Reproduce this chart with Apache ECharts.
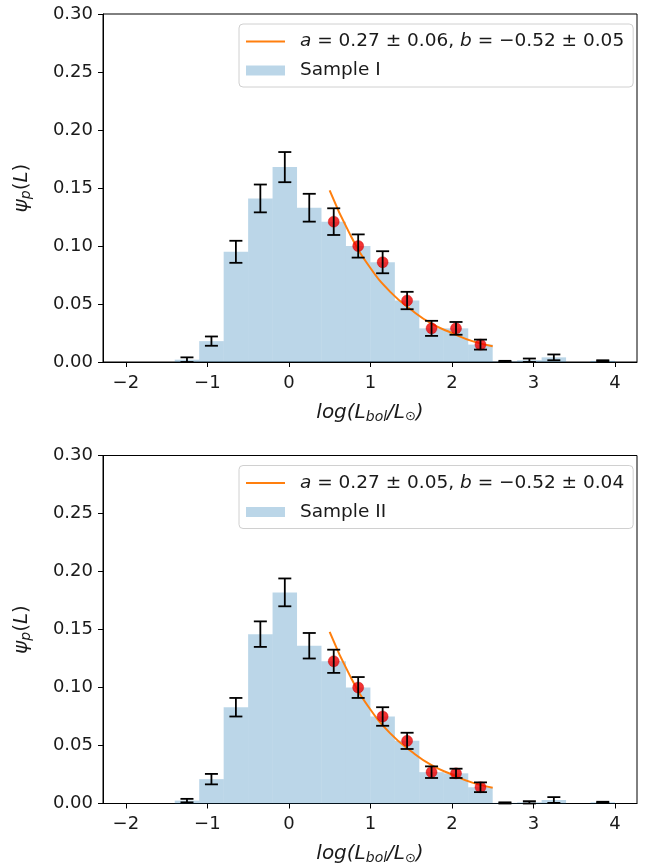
<!DOCTYPE html>
<html><head><meta charset="utf-8">
<script src="https://cdn.jsdelivr.net/npm/echarts@6/dist/echarts.min.js"></script>
<style>html,body{margin:0;padding:0;background:#fff}#c{width:649px;height:868px}</style>
</head><body><div id="c"></div>
<script>
// ---------- data ----------
const binCenters = [-1.25,-0.95,-0.65,-0.35,-0.05,0.25,0.55,0.85,1.15,1.45,1.75,2.05,2.35,2.65,2.95,3.25,3.55,3.85];
const binWidth = 0.3;
const sample1Values = [0.002,0.018,0.095,0.141,0.168,0.133,0.121,0.100,0.086,0.053,0.029,0.029,0.015,0.0005,0.0015,0.004,0,0.001];
const sample1Errors = [0.002,0.004,0.0095,0.012,0.013,0.012,0.0115,0.010,0.0095,0.0075,0.0065,0.0055,0.0043,0.0005,0.0015,0.0025,null,0.0005];
const sample2Values = [0.0025,0.021,0.083,0.146,0.182,0.136,0.1226,0.100,0.075,0.054,0.027,0.026,0.014,0.0005,0.001,0.003,0,0.001];
const sample2Errors = [0.0015,0.0045,0.008,0.011,0.012,0.011,0.010,0.009,0.008,0.007,0.005,0.004,0.0042,0.0005,0.001,0.0025,null,0.0005];
const fitIndices = [6,7,8,9,10,11,12];
const fitX = [0.5,0.75,1.0,1.25,1.5,1.75,2.0,2.25,2.5];
const fit1Y = [0.148,0.110,0.081,0.060,0.045,0.033,0.025,0.018,0.0135];
const fit2Y = [0.148,0.110,0.081,0.060,0.045,0.033,0.025,0.018,0.0135];
const fit1Name = 'a = 0.27 ± 0.06, b = −0.52 ± 0.05';
const fit2Name = 'a = 0.27 ± 0.05, b = −0.52 ± 0.04';
const sample1Name = 'Sample I';
const sample2Name = 'Sample II';
const xTicks = [-2,-1,0,1,2,3,4];
const xRange = [-2.28, 4.27];
const yRange = [0, 0.30];
const yStep = 0.05;

// ---------- styling ----------
const FONT = 'DejaVu Sans';
const TXT = '#1a1a1a';
const BAR = 'rgba(31,119,180,0.3)';
const ORANGE = '#ff7f0e';

function histSeries(gi, name, vals) {
  return {
    type: 'custom', name: name, xAxisIndex: gi, yAxisIndex: gi, z: 1,
    itemStyle: {color: BAR},
    encode: {x: 0, y: 1},
    data: binCenters.map((c, i) => [c, vals[i]]),
    renderItem: function (params, api) {
      const x = api.value(0), v = api.value(1);
      const p0 = api.coord([x - binWidth / 2, v]);
      const p1 = api.coord([x + binWidth / 2, 0]);
      return {type: 'rect', shape: {x: p0[0], y: p0[1], width: p1[0] - p0[0], height: p1[1] - p0[1]},
        style: {fill: BAR}};
    }
  };
}
function errSeries(gi, vals, errs) {
  const d = [];
  binCenters.forEach((c, i) => { if (errs[i] != null) d.push([c, vals[i] - errs[i], vals[i] + errs[i]]); });
  return {
    type: 'custom', xAxisIndex: gi, yAxisIndex: gi, z: 5, silent: true,
    encode: {x: 0, y: [1, 2]}, data: d,
    renderItem: function (params, api) {
      const lo = api.coord([api.value(0), api.value(1)]);
      const hi = api.coord([api.value(0), api.value(2)]);
      const hw = 6.5;
      const st = {stroke: '#000', lineWidth: 1.8};
      return {type: 'group', children: [
        {type: 'line', shape: {x1: lo[0], y1: lo[1], x2: hi[0], y2: hi[1]}, style: st},
        {type: 'line', shape: {x1: lo[0] - hw, y1: lo[1], x2: lo[0] + hw, y2: lo[1]}, style: st},
        {type: 'line', shape: {x1: hi[0] - hw, y1: hi[1], x2: hi[0] + hw, y2: hi[1]}, style: st}
      ]};
    }
  };
}
function dotSeries(gi, vals) {
  return {type: 'scatter', xAxisIndex: gi, yAxisIndex: gi, z: 4, symbolSize: 11,
    itemStyle: {color: '#f00000', borderColor: '#c80000', borderWidth: 0.5},
    data: fitIndices.map(i => [binCenters[i], vals[i]])};
}
function fitSeries(gi, name, ys) {
  return {type: 'line', name: name, xAxisIndex: gi, yAxisIndex: gi, z: 3, smooth: true,
    symbol: 'none', showSymbol: false, lineStyle: {color: ORANGE, width: 2}, itemStyle: {color: ORANGE},
    data: fitX.map((x, i) => [x, ys[i]])};
}

const grids = [
  {left: 103, right: 12, top: 14, height: 348, show: true, borderColor: '#000', borderWidth: 1, backgroundColor: 'transparent'},
  {left: 103, right: 12, top: 455.5, height: 348, show: true, borderColor: '#000', borderWidth: 1, backgroundColor: 'transparent'}
];
const richName = {
  i: {fontFamily: FONT, fontStyle: 'italic', fontSize: 20, color: TXT},
  n: {fontFamily: FONT, fontSize: 20, color: TXT},
  sub: {fontFamily: FONT, fontStyle: 'italic', fontSize: 14, color: TXT, padding: [9, 0, 0, 0]},
  subn: {fontFamily: FONT, fontSize: 13, color: TXT, padding: [9, 0, 0, 0]}
};
function xAxis(gi) {
  return {type: 'value', gridIndex: gi, min: xRange[0], max: xRange[1],
    axisLine: {show: true, onZero: false, lineStyle: {color: '#000', width: 1}},
    axisTick: {show: true, customValues: xTicks, length: 5, inside: false, lineStyle: {color: '#000', width: 1}},
    axisLabel: {show: true, customValues: xTicks, margin: 12, fontFamily: FONT, fontSize: 18, color: TXT,
      formatter: v => (v < 0 ? '−' + Math.abs(v) : String(v))},
    splitLine: {show: false},
    name: '{i|log(L}{sub|bol}{i|/L}{subn|⊙}{i|)}', nameLocation: 'middle', nameGap: 39,
    nameTextStyle: {rich: richName}};
}
function yAxis(gi) {
  return {type: 'value', gridIndex: gi, min: yRange[0], max: yRange[1], interval: yStep,
    axisLine: {show: true, onZero: false, lineStyle: {color: '#000', width: 1}},
    axisTick: {show: true, length: 5, lineStyle: {color: '#000', width: 1}},
    axisLabel: {margin: 10, fontFamily: FONT, fontSize: 18, color: TXT, formatter: v => v.toFixed(2)},
    splitLine: {show: false},
    name: '{i|ψ}{sub|p}{n|(}{i|L}{n|)}', nameLocation: 'middle', nameGap: 70,
    nameTextStyle: {rich: richName}};
}
function legend(top, fitName, sampleName) {
  return {left: 239, top: top, orient: 'vertical', itemWidth: 39, itemHeight: 10, itemGap: 10,
    padding: [8, 9, 7, 7], borderColor: '#d0d0d0', borderWidth: 1, borderRadius: 4, backgroundColor: '#fff',
    selectedMode: false,
    data: [{name: fitName, icon: 'path://M0,5L40,5L40,7L0,7Z', itemStyle: {color: ORANGE}},
           {name: sampleName, icon: 'rect', itemStyle: {color: BAR}}],
    formatter: function (name) {
      if (name.indexOf('a = ') === 0) {
        const parts = name.slice(4).split(', b = ');
        return '{i|a}{n| = ' + parts[0] + ', }{i|b}{n| = ' + parts[1] + '}';
      }
      return '{n|' + name + '}';
    },
    textStyle: {padding: [0, 0, 0, 10], rich: {
      i: {fontFamily: FONT, fontStyle: 'italic', fontSize: 18.5, color: TXT},
      n: {fontFamily: FONT, fontSize: 18.5, color: TXT}
    }}};
}

const chart = echarts.init(document.getElementById('c'), null, {renderer: 'canvas'});
chart.setOption({
  animation: false,
  backgroundColor: '#fff',
  grid: grids,
  xAxis: [xAxis(0), xAxis(1)],
  yAxis: [yAxis(0), yAxis(1)],
  legend: [legend(24, fit1Name, sample1Name), legend(465.5, fit2Name, sample2Name)],
  series: [
    histSeries(0, sample1Name, sample1Values),
    fitSeries(0, fit1Name, fit1Y),
    dotSeries(0, sample1Values),
    errSeries(0, sample1Values, sample1Errors),
    histSeries(1, sample2Name, sample2Values),
    fitSeries(1, fit2Name, fit2Y),
    dotSeries(1, sample2Values),
    errSeries(1, sample2Values, sample2Errors)
  ]
});
</script></body></html>
